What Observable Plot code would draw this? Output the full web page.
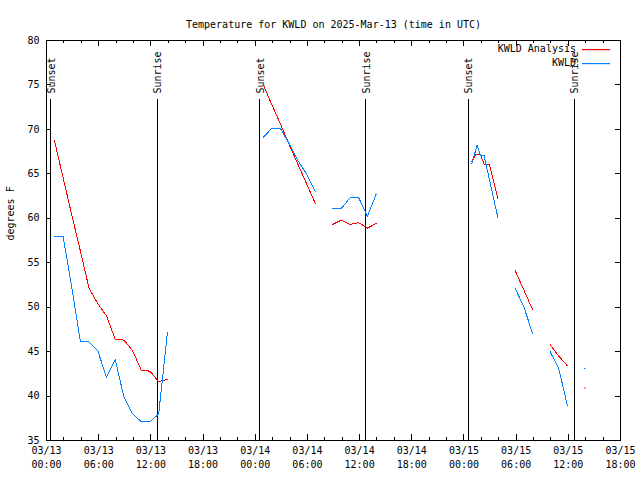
<!DOCTYPE html>
<html>
<head>
<meta charset="utf-8">
<script src="https://cdn.jsdelivr.net/npm/d3@7"></script>
<script src="https://cdn.jsdelivr.net/npm/@observablehq/plot@0.6"></script>
<style>
  html, body { margin: 0; padding: 0; background: #fff; }
  #chart svg { display: block; }
</style>
</head>
<body>
<div id="chart"></div>
<script>
// ---- data (hours after 2025-03-13 00:00 UTC; null = gap) ----
const baseTime = "2025-03-13T00:00:00Z";
const titleText = "Temperature for KWLD on 2025-Mar-13 (time in UTC)";
const yLabelText = "degrees F";
const seriesNames = ["KWLD Analysis", "KWLD"];
const seriesColors = ["#ff0000", "#0080ff"];

const analysisHours = [0.9, 1.9, 2.9, 3.9, 4.9, 5.9, 6.9, 7.9, 8.9, 9.9, 10.9, 11.9, 12.9, 13.9, 19,
  24.9, 25.9, 26.9, 27.9, 28.9, 29.9, 30.9, 31.9,
  32.9, 33.9, 34.9, 35.9, 36.9, 37.9, 43,
  48.9, 49.4, 49.9, 50.3, 50.9, 51.9, 52.9,
  53.9, 54.9, 55.9, 56.9,
  57.9, 58.9, 59.9, 60.9,
  61.9];
const analysisTemps = [68.8, 64.6, 60.4, 56.3, 52.1, 50.4, 49.0, 46.4, 46.3, 45.1, 42.9, 42.8, 41.6, 41.9, null,
  75.1, 72.8, 70.6, 68.3, 66.1, 63.9, 61.7, null,
  59.3, 59.8, 59.3, 59.5, 58.9, 59.4, null,
  66.4, 67.2, 67.2, 66.1, 66.1, 62.2, null,
  54.1, 51.9, 49.7, null,
  45.8, 44.5, 43.4, null,
  40.9];

const obsHours = [0.9, 1.9, 2.9, 3.9, 4.9, 5.9, 6.9, 7.9, 8.9, 9.9, 10.9, 11.9, 12.9, 13.9, 19,
  24.9, 25.9, 26.9, 27.9, 28.9, 29.9, 30.9, 31.9,
  32.9, 33.9, 34.9, 35.9, 36.9, 37.9, 43,
  48.9, 49.5, 49.9, 50.3, 51.9, 52.9,
  53.9, 54.9, 55.9, 56.9,
  57.9, 58.9, 59.9, 60.9,
  61.9];
const obsTemps = [58.0, 58.0, 52.3, 46.1, 46.1, 45.1, 42.1, 44.1, 39.9, 38.0, 37.1, 37.1, 38.0, 47.1, null,
  69.1, 70.1, 70.1, 68.4, 66.5, 65.0, 63.0, null,
  61.1, 61.1, 62.3, 62.3, 60.2, 62.7, null,
  66.1, 68.2, 67.1, 67.1, 60.1, null,
  52.1, 50.0, 47.0, null,
  45.0, 43.1, 38.9, null,
  43.1];

const sunTimes = ["2025-03-13T00:28Z", "2025-03-13T12:44Z", "2025-03-14T00:29Z",
                  "2025-03-14T12:43Z", "2025-03-15T00:30Z", "2025-03-15T12:41Z"];
const sunLabels = ["Sunset", "Sunrise", "Sunset", "Sunrise", "Sunset", "Sunrise"];

const xMajorHours = [0, 6, 12, 18, 24, 30, 36, 42, 48, 54, 60, 66];
const xLabelDates = ["03/13", "03/13", "03/13", "03/13", "03/14", "03/14", "03/14", "03/14", "03/15", "03/15", "03/15", "03/15"];
const xLabelTimes = ["00:00", "06:00", "12:00", "18:00", "00:00", "06:00", "12:00", "18:00", "00:00", "06:00", "12:00", "18:00"];
const xMinorHours = [2, 4, 8, 10, 14, 16, 20, 22, 26, 28, 32, 34, 38, 40, 44, 46, 50, 52, 56, 58, 62, 64];
const yTicks = [35, 40, 45, 50, 55, 60, 65, 70, 75, 80];

// ---- build tables ----
const base = new Date(baseTime).getTime();
const toDate = h => new Date(base + h * 3600e3);
function build(hours, temps, name) {
  return hours.map((h, i) => ({time: toDate(h), temp: temps[i], series: name}));
}
const analysis = build(analysisHours, analysisTemps, seriesNames[0]);
const obs = build(obsHours, obsTemps, seriesNames[1]);
function isolated(rows) {
  return rows.filter((d, i) => d.temp != null &&
    (i === 0 || rows[i - 1].temp == null) && (i === rows.length - 1 || rows[i + 1].temp == null));
}
const sun = sunTimes.map((t, i) => ({time: new Date(t), label: sunLabels[i]}));
const majors = xMajorHours.map((h, i) => ({time: toDate(h), date: xLabelDates[i], hm: xLabelTimes[i]}));
const minors = xMinorHours.map(h => ({time: toDate(h)}));

const W = 640, H = 480, ML = 46, MR = 20, MT = 40, MB = 40;
const FW = W - ML - MR, FH = H - MT - MB;
const font = "DejaVu Sans Mono";

const chart = Plot.plot({
  width: W, height: H,
  marginLeft: ML, marginRight: MR, marginTop: MT, marginBottom: MB,
  style: {fontFamily: font, fontSize: "10px", background: "#fff", color: "#000", overflow: "visible"},
  x: {type: "utc", domain: [toDate(0), toDate(66)], axis: null},
  y: {domain: [35, 80], axis: null},
  marks: [
    // ticks (inward, gnuplot style)
    Plot.ruleX(majors, {x: "time", insetTop: FH - 6, stroke: "#000", shapeRendering: "crispEdges"}),
    Plot.ruleX(majors, {x: "time", insetBottom: FH - 6, stroke: "#000", shapeRendering: "crispEdges"}),
    Plot.ruleX(minors, {x: "time", insetTop: FH - 3, stroke: "#000", shapeRendering: "crispEdges"}),
    Plot.ruleX(minors, {x: "time", insetBottom: FH - 3, stroke: "#000", shapeRendering: "crispEdges"}),
    Plot.ruleY(yTicks, {y: d => d, insetRight: FW - 5, stroke: "#000", shapeRendering: "crispEdges"}),
    Plot.ruleY(yTicks, {y: d => d, insetLeft: FW - 5, stroke: "#000", shapeRendering: "crispEdges"}),
    // tick labels
    Plot.text(yTicks, {y: d => d, text: d => String(d), frameAnchor: "left", dx: -7, textAnchor: "end", fontSize: 10}),
    Plot.text(majors, {x: "time", text: "date", frameAnchor: "bottom", dy: 13, fontSize: 10}),
    Plot.text(majors, {x: "time", text: "hm", frameAnchor: "bottom", dy: 27, fontSize: 10}),
    // sunrise / sunset
    Plot.ruleX(sun, {x: "time", insetTop: 59, stroke: "#000", shapeRendering: "crispEdges"}),
    Plot.text(sun, {x: "time", text: "label", frameAnchor: "top", dy: 53, dx: -3, rotate: -90, textAnchor: "start", fontSize: 10}),
    // series
    Plot.line(analysis, {x: "time", y: "temp", stroke: seriesColors[0], strokeWidth: 1, shapeRendering: "crispEdges"}),
    Plot.line(obs, {x: "time", y: "temp", stroke: seriesColors[1], strokeWidth: 1, shapeRendering: "crispEdges"}),
    Plot.dot(isolated(analysis), {x: "time", y: "temp", r: 0.7, fill: seriesColors[0], stroke: null}),
    Plot.dot(isolated(obs), {x: "time", y: "temp", r: 0.7, fill: seriesColors[1], stroke: null}),
    // frame, title, y label
    Plot.frame({stroke: "#000", shapeRendering: "crispEdges"}),
    Plot.text([titleText], {frameAnchor: "top", dy: -20, fontSize: 10}),
    Plot.text([yLabelText], {frameAnchor: "left", dx: -36, rotate: -90, fontSize: 10})
  ]
});

// legend (top right, gnuplot key style)
const svg = d3.select(chart);
const legend = svg.append("g").attr("font-family", font).attr("font-size", 10);
seriesNames.forEach((name, i) => {
  const y = 49 + i * 13.5;
  legend.append("text").attr("x", 576).attr("y", y).attr("dy", "0.32em")
    .attr("text-anchor", "end").attr("fill", "#000").text(name);
  legend.append("rect").attr("x", 582).attr("width", 28).attr("y", Math.round(y)).attr("height", 1.2)
    .attr("fill", seriesColors[i]);
});

document.getElementById("chart").appendChild(chart);
</script>
</body>
</html>
